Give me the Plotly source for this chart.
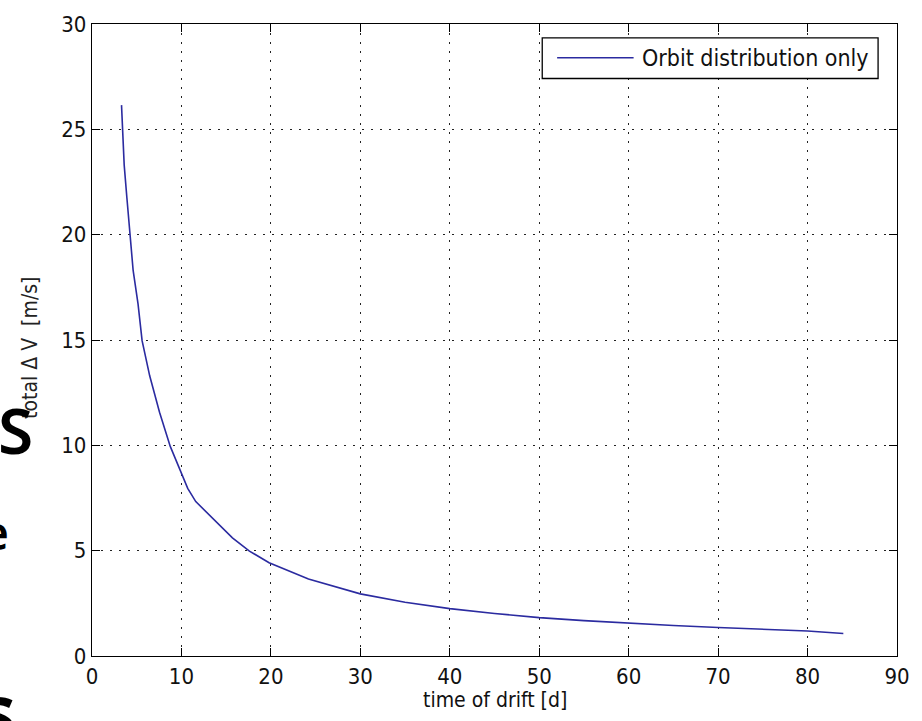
import plotly.graph_objects as go

# Drift time [days] and required total delta-V [m/s]
drift_days = [3.3, 3.4, 3.6, 3.9, 4.25, 4.6, 5.15, 5.6, 6.45, 7.55, 8.75,
              9.8, 10.7, 11.6, 13.5, 15.7, 17.6, 19.8, 24.2, 30, 35, 40, 45,
              50, 55, 60, 65, 70, 75, 80, 84]
delta_v = [26.15, 25.0, 23.3, 21.75, 19.95, 18.3, 16.7, 14.97, 13.3, 11.57,
           9.95, 8.9, 7.96, 7.33, 6.55, 5.61, 4.98, 4.43, 3.65, 2.95, 2.55,
           2.25, 2.02, 1.82, 1.68, 1.55, 1.45, 1.35, 1.27, 1.19, 1.07]

x_ticks = [0, 10, 20, 30, 40, 50, 60, 70, 80, 90]
y_ticks = [0, 5, 10, 15, 20, 25, 30]

series_name = "Orbit distribution only"
x_title = "time of drift [d]"
y_title = "total \u0394 V  [m/s]"

FONT = "Liberation Sans Narrow, DejaVu Sans Condensed, Arial Narrow, sans-serif"
LINE_COLOR = "#2b2ba0"

fig = go.Figure()
fig.add_trace(go.Scatter(
    x=drift_days, y=delta_v, mode="lines", name=series_name,
    line=dict(color=LINE_COLOR, width=1.6), showlegend=False,
))

axis_common = dict(
    showline=True, linecolor="black", linewidth=1.3, mirror="ticks",
    ticks="inside", ticklen=8, tickwidth=1.3, tickcolor="black",
    showgrid=True, gridcolor="#222222", gridwidth=1, griddash="1.5px,7.5px",
    zeroline=False,
    tickfont=dict(family=FONT, size=22, color="#111111"),
)

fig.update_xaxes(range=[0, 90], tickvals=x_ticks, **axis_common)
fig.update_yaxes(range=[0, 30], tickvals=y_ticks, **axis_common)

# Legend box drawn as shapes so the sample line matches its length
fig.add_shape(type="rect", xref="paper", yref="paper",
              x0=0.5593, x1=0.9765, y0=0.9138, y1=0.978,
              line=dict(color="black", width=1.3), fillcolor="white", layer="above")
fig.add_shape(type="line", xref="paper", yref="paper",
              x0=0.5778, x1=0.6728, y0=0.9467, y1=0.9467,
              line=dict(color=LINE_COLOR, width=1.6), layer="above")

annotations = [
    dict(text=series_name, x=0.6802, y=0.9467, xanchor="left", yanchor="middle",
         font=dict(family=FONT, size=23, color="#111111")),
    dict(text=x_title, x=0.5, y=-0.069, xanchor="center", yanchor="middle",
         font=dict(family=FONT, size=21, color="#111111")),
    dict(text=y_title, x=-0.077, y=0.4875, xanchor="center", yanchor="middle",
         textangle=-90, font=dict(family=FONT, size=21, color="#222222")),
    # large slide lettering at the left edge
    dict(text="S", x=-0.0945, y=0.359, xanchor="center", yanchor="middle",
         font=dict(family="Noto Sans, sans-serif", size=64, color="black", weight=600)),
    dict(text="e", x=-0.1198, y=0.196, xanchor="center", yanchor="middle",
         font=dict(family="Noto Sans, sans-serif", size=46, color="black", weight=600)),
    dict(text="s", x=-0.1185, y=-0.085, xanchor="center", yanchor="middle",
         font=dict(family="Noto Sans, sans-serif", size=76, color="black", weight=700)),
]
for a in annotations:
    a.update(xref="paper", yref="paper", showarrow=False)
fig.update_layout(annotations=annotations)

fig.update_layout(
    width=922, height=721,
    margin=dict(l=92, r=20, t=18, b=65),
    paper_bgcolor="white", plot_bgcolor="white",
)

fig.write_html("out.html")
